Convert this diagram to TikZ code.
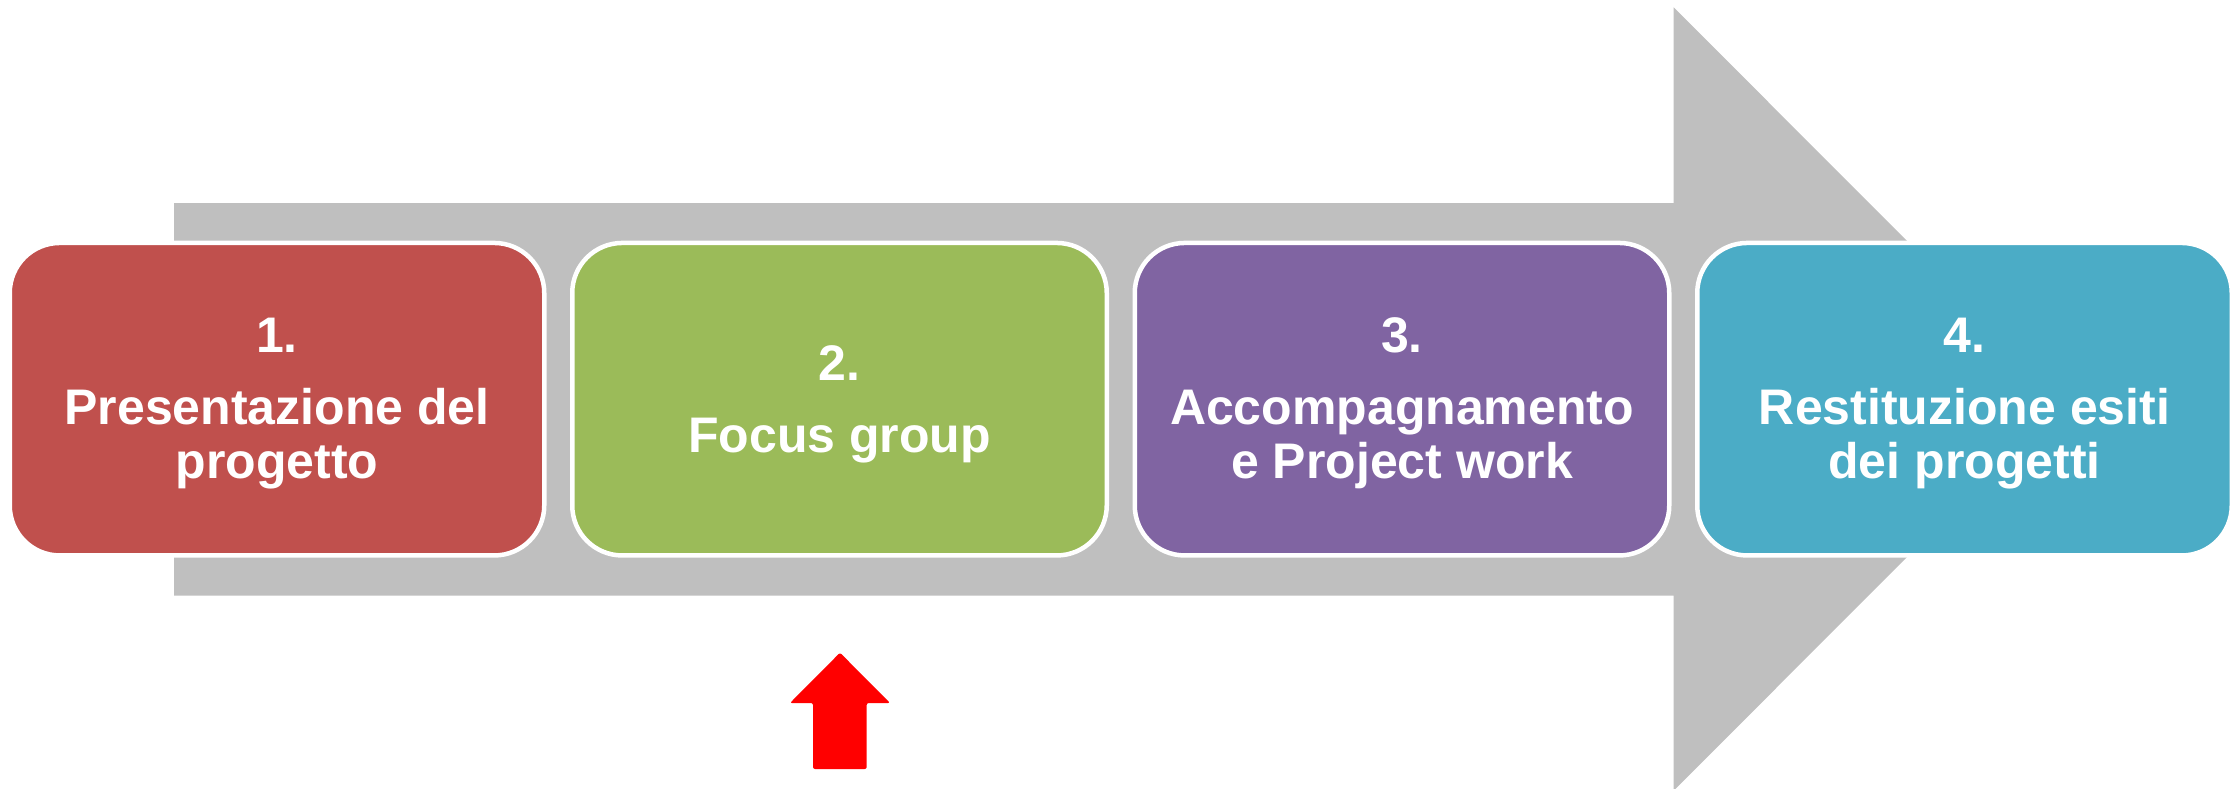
\documentclass[tikz,border=0pt]{standalone}
\usepackage{fontspec}
\setmainfont{Liberation Sans}
\definecolor{arrowgray}{RGB}{191,191,191}
\definecolor{c1}{RGB}{192,80,77}
\definecolor{c2}{RGB}{155,187,89}
\definecolor{c3}{RGB}{128,100,162}
\definecolor{c4}{RGB}{75,172,198}
\definecolor{pointer}{RGB}{255,0,0}
\begin{document}
\begin{tikzpicture}[x=1pt,y=-1pt,
  stagebox/.style={draw=white, line width=4.5pt, rounded corners=50pt,
    minimum width=534.5pt, minimum height=312.5pt, inner sep=0pt},
  lbl/.style={text=white, font=\fontsize{50}{60}\selectfont\bfseries,
    anchor=base, inner sep=0pt}]
\useasboundingbox (0,0) rectangle (2238,789);
\clip (0,0) rectangle (2238,789);
% big gray arrow
\fill[arrowgray] (174,203) -- (1673.6,203) -- (1673.6,7.3) -- (2065,399)
  -- (1673.6,790.7) -- (1673.6,595.7) -- (174,595.7) -- cycle;
% stage boxes
\node[stagebox, fill=c1] (box1) at (277,399.2) {};
\node[stagebox, fill=c2] (box2) at (839.5,399.2) {};
\node[stagebox, fill=c3] (box3) at (1402,399.2) {};
\node[stagebox, fill=c4] (box4) at (1964.5,399.2) {};
% labels
\node[lbl] (t1a) at (277,352.5) {1.};
\node[lbl] (t1b) at (277,424.3) {Presentazione del};
\node[lbl] (t1c) at (277,478.7) {progetto};
\node[lbl] (t2a) at (839.5,380) {2.};
\node[lbl] (t2b) at (839.5,452.3) {Focus group};
\node[lbl] (t3a) at (1402,352.5) {3.};
\node[lbl] (t3b) at (1402,424.3) {Accompagnamento};
\node[lbl] (t3c) at (1402,478.7) {e Project work};
\node[lbl] (t4a) at (1964.5,352.5) {4.};
\node[lbl] (t4b) at (1964.5,424.3) {Restituzione esiti};
\node[lbl] (t4c) at (1964.5,478.7) {dei progetti};
% red pointer arrow
\fill[pointer, rounded corners=2pt] (813,769) -- (813,703) -- (790,703)
  -- (840,652.7) -- (890,703) -- (866.7,703) -- (866.7,769) -- cycle;
\end{tikzpicture}
\end{document}
